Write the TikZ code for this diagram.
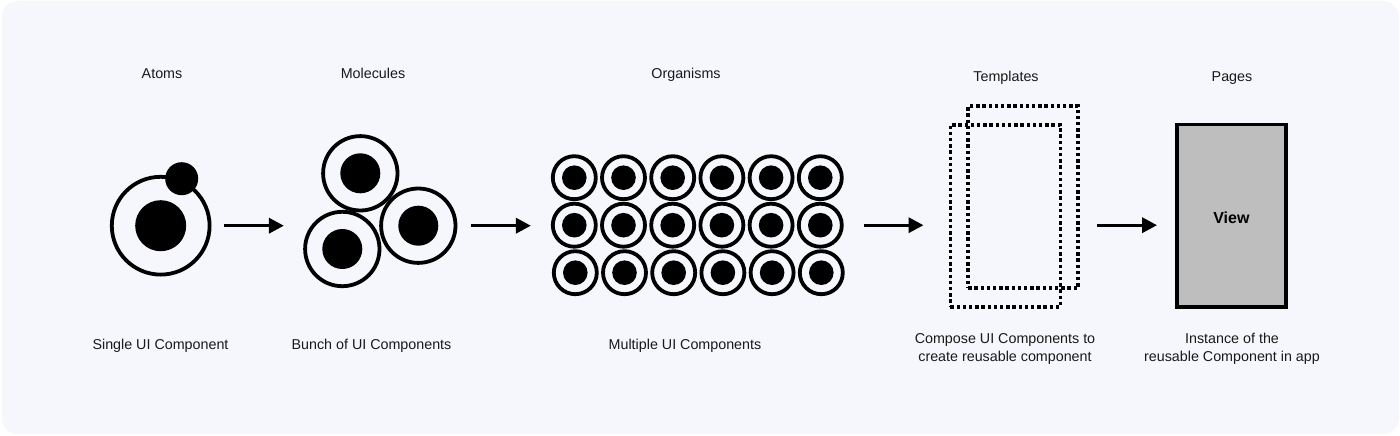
\documentclass[tikz,border=0pt]{standalone}
\usepackage{fontspec}
\setmainfont{Liberation Sans}
\usepackage{xcolor}
\usetikzlibrary{arrows.meta,positioning}
\definecolor{panelbg}{HTML}{F5F7FC}
\definecolor{viewgray}{HTML}{BEBEBE}
\begin{document}
\begin{tikzpicture}[
  x=1pt, y=-1pt,
  font=\fontsize{14.3}{18}\selectfont,
  label/.style={align=center, inner sep=0pt, text=black!90},
  ring/.style={circle, draw=black, line width=3.8pt, inner sep=0pt},
  dot/.style={circle, fill=black, inner sep=0pt},
  tmpl/.style={draw=black, line width=3.8pt, dash pattern=on 3.4pt off 2.8pt, inner sep=0pt, minimum width=110pt, minimum height=182pt},
  arrow/.style={-{Triangle[length=15pt,width=15pt]}, line width=3.4pt}
]
  \useasboundingbox (0,0) rectangle (1400,436);
  \fill[white] (0,0) rectangle (1400,436);
  \fill[panelbg, rounded corners=16pt] (2,1) rectangle (1399,434);

  % Atoms
  \node[label] (atomstitle) at (162,74) {Atoms};
  \node[ring, minimum size=97.8pt] (atom) at (160.7,225.7) {};
  \node[dot, minimum size=51pt] (atomcore) at (atom) {};
  \node[dot, minimum size=33pt] (electron) at (181.7,178.7) {};
  \node[label] (atomstext) at (160.5,345.5) {Single UI Component};

  % Molecules
  \node[label] (moleculestitle) at (373,73) {Molecules};
  \node[ring, minimum size=74.4pt] (mola) at (360.3,173.3) {};
  \node[ring, minimum size=74.4pt] (molb) at (418.3,225.7) {};
  \node[ring, minimum size=74.4pt] (molc) at (342.3,249) {};
  \foreach \m in {a,b,c}
    \node[dot, minimum size=40pt] (core\m) at (mol\m) {};
  \node[label] (moleculestext) at (371.5,345.5) {Bunch of UI Components};

  % Organisms
  \node[label] (organismstitle) at (686,75) {Organisms};
  \foreach \row/\y/\dx in {1/177.7/0, 2/225.2/0, 3/272.7/1}
    \foreach \col in {1,...,6} {
      \node[ring, minimum size=43pt] (org\row\col) at ({574.3+\dx+(\col-1)*49.2},\y) {};
      \node[dot, minimum size=24.6pt] (orgcore\row\col) at (org\row\col) {};
    }
  \node[label] (organismstext) at (685,345.5) {Multiple UI Components};

  % Templates
  \node[label] (templatestitle) at (1006,78) {Templates};
  \node[tmpl] (tmplback) at (1023.2,197.2) {};
  \node[tmpl] (tmplfront) at (1005.4,215.7) {};
  \node[label] (templatestext) at (1005,349) {Compose UI Components to\\create reusable component};

  % Pages
  \node[label] (pagestitle) at (1232,78) {Pages};
  \node[draw=black, fill=viewgray, line width=3.7pt, inner sep=0pt, minimum width=109pt, minimum height=182.3pt, font=\fontsize{16}{18}\selectfont\bfseries] (page) at (1231.4,215.7) {\raisebox{-7.3pt}[0pt][0pt]{View}};
  \node[label] (pagestext) at (1232,349) {Instance of the\\reusable Component in app};

  % Arrows
  \draw[arrow, shorten <=12.6pt, shorten >=19.3pt] (atom.east) -- (atom.east -| molc.west);
  \draw[arrow, shorten <=13.7pt, shorten >=20pt] (molb.east) -- (molb.east -| org21.west);
  \draw[arrow, shorten <=20.4pt, shorten >=25pt] (org26.east) -- (org26.east -| tmplfront.west);
  \draw[arrow, shorten <=17pt, shorten >=18pt] (org26.east -| tmplback.east) -- (org26.east -| page.west);
\end{tikzpicture}
\end{document}
